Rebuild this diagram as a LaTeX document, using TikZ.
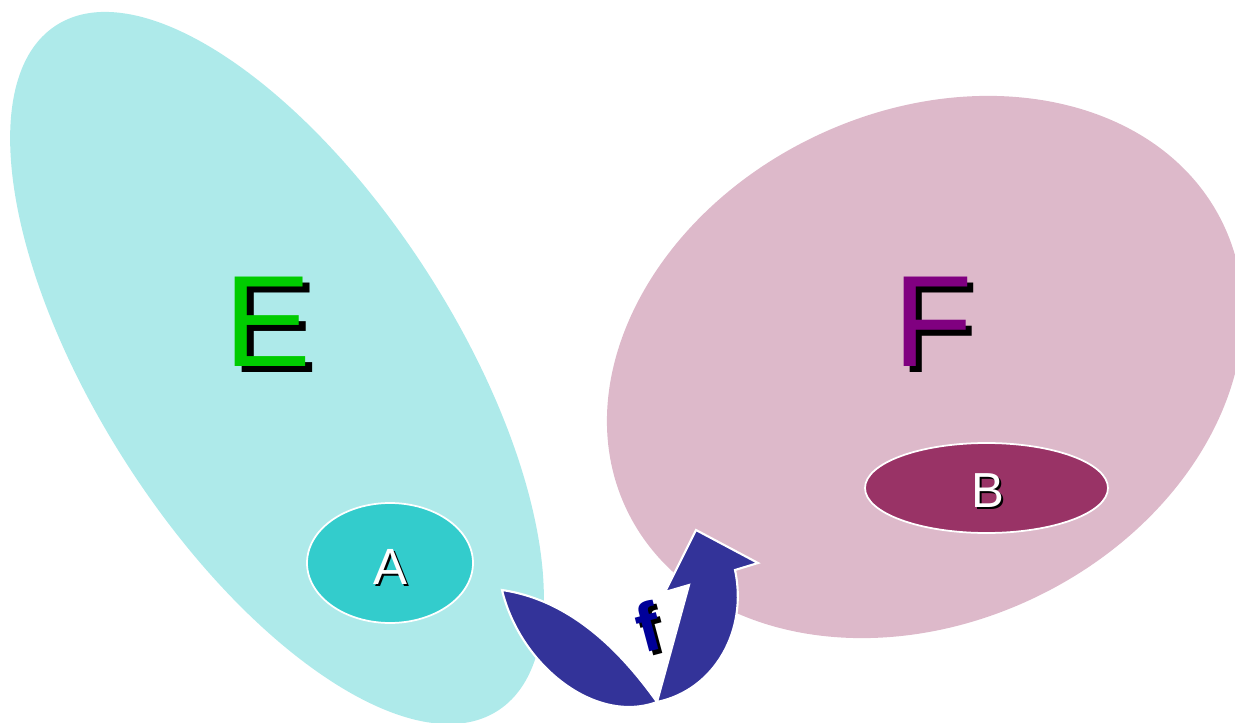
\documentclass[tikz,border=0pt]{standalone}
\usepackage{fontspec}
\setmainfont{Liberation Sans}
\usetikzlibrary{shapes.geometric}

\definecolor{setEfill}{RGB}{174,234,234}
\definecolor{setFfill}{RGB}{221,185,202}
\definecolor{subAfill}{RGB}{51,204,204}
\definecolor{subBfill}{RGB}{153,51,102}
\definecolor{mapblue}{RGB}{51,51,153}
\definecolor{labelE}{RGB}{0,204,0}
\definecolor{labelF}{RGB}{128,0,128}
\definecolor{labelf}{RGB}{0,0,153}

\begin{document}
\begin{tikzpicture}[x=0.02cm, y=-0.02cm,
    bigset/.style={ellipse, inner sep=0pt},
    subset/.style={ellipse, draw=white, line width=1pt, inner sep=0pt},
    setname/.style={inner sep=0pt, font=\fontsize{74}{74}\selectfont},
    subname/.style={inner sep=0pt, text=white, font=\fontsize{29}{29}\selectfont}]
  % Frame of the picture
  \useasboundingbox (0,0) rectangle (1235,723);
  \clip (0,0) rectangle (1235,723);

  % Big sets E and F
  \node[bigset, fill=setEfill, minimum width=16.31cm, minimum height=7.13cm, rotate=-57.2] (E) at (277,368) {};
  \node[bigset, fill=setFfill, minimum width=13.23cm, minimum height=10.22cm, rotate=25.6] (F) at (925,367) {};

  % Subsets A and B
  \node[subset, fill=subAfill, minimum width=3.32cm, minimum height=2.4cm] (A) at (390,563) {};
  \node[subset, fill=subBfill, minimum width=4.86cm, minimum height=1.8cm] (B) at (986.5,488) {};

  % Curved map arrow f
  \fill[mapblue, draw=white, line width=1.2pt] (502,590)
        .. controls (570,600) and (620,650) .. (657,702)
        -- (689,585) -- (665,592) -- (696,530) -- (758,563) -- (735,570)
        .. controls (748,630) and (715,690) .. (657,702)
        .. controls (595,725) and (520,665) .. (502,590) -- cycle;

  % Set names with shadows
  \node[setname, text=black] (Eshadow) at (274.5,328) {E};
  \node[setname, text=labelE] (Ename) at (268,321.5) {E};
  \node[setname, text=black] (Fshadow) at (939.5,328) {F};
  \node[setname, text=labelF] (Fname) at (933,321.5) {F};

  % Subset names with shadows
  \node[subname, text=black] (Ashadow) at (392,568.5) {A};
  \node[subname] (Aname) at (390,566.5) {A};
  \node[subname, text=black, font=\fontsize{28}{28}\selectfont] (Bshadow) at (990,492.5) {B};
  \node[subname, font=\fontsize{28}{28}\selectfont] (Bname) at (988,490.5) {B};

  % Name of the map
  \node[inner sep=0pt, rotate=15, font=\fontsize{39}{39}\selectfont\bfseries] (fshadow) at (652,631) {f};
  \node[inner sep=0pt, rotate=15, text=labelf, font=\fontsize{39}{39}\selectfont\bfseries] (fname) at (648,627) {f};

\end{tikzpicture}
\end{document}
